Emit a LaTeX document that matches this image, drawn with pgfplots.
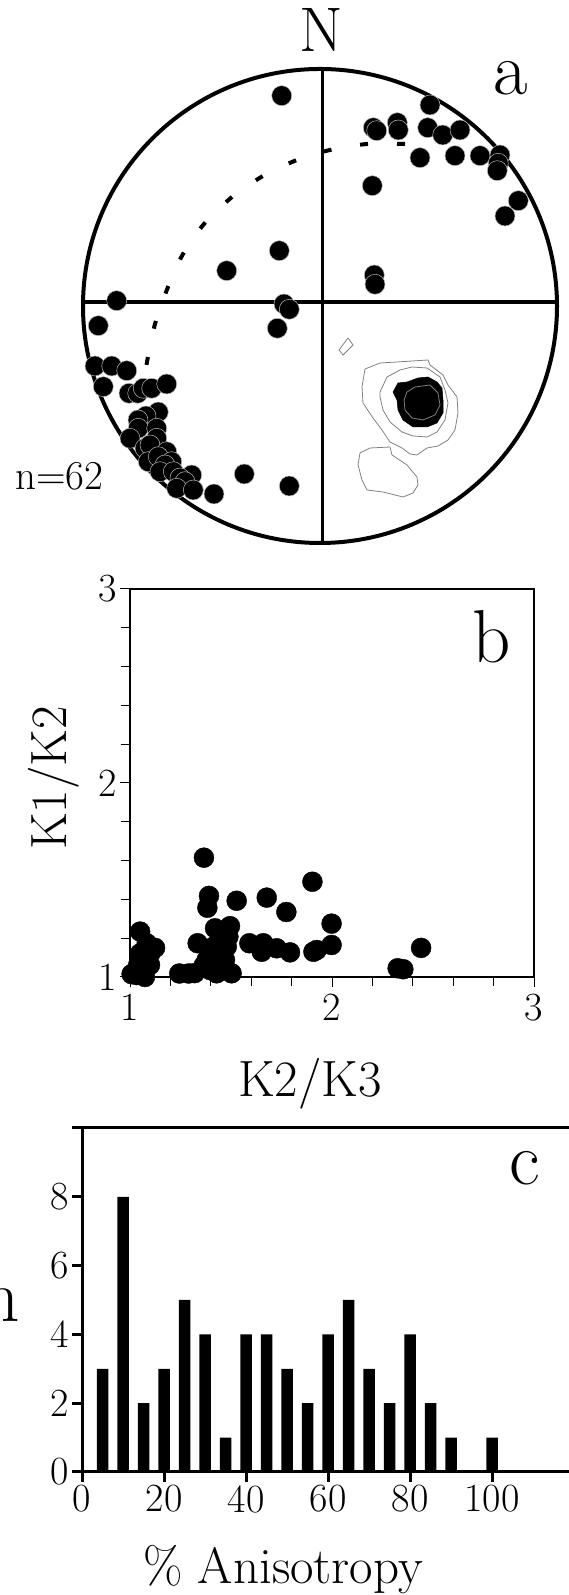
\documentclass[border=0pt]{standalone}
\usepackage{pgfplots}
\pgfplotsset{compat=1.18}

\newcommand\fs[1]{\fontsize{#1}{#1}\selectfont}

\pgfplotstableread{
x y
281.7 95.7
430 105
373.3 127.7
376.7 130.7
397.3 122.7
398.3 130
427.7 127.7
442.7 135
460 130
420 157.7
455 155.7
480 155.7
500 155
498.3 163.3
497.3 170.7
372.3 185.7
518.3 200.7
505 216
279.3 250.7
226.7 270.7
374.3 275
375 284.3
116.7 300.7
284 304
289.3 309.3
277.3 328.3
98.3 325.7
95 366
111.7 366
126.7 370.7
103.3 386.7
129 393.3
137.7 393.3
143.3 388.3
151.7 388.3
166.7 384
158.3 412
146 416
138 420
138.3 428.3
156.7 428.3
130 438.3
156.7 438.3
145 448.3
150 445
166.7 451.7
148.3 461.7
158.3 456.7
171.7 461.7
165 465
160 471.7
173.3 471.7
191.7 475
180 478
185 481.7
176.7 488.3
193.3 490
214 494
244.3 474
289.3 486
}\poles

\pgfplotstableread{
x y
1.366 1.615
1.903 1.491
1.391 1.418
1.383 1.357
1.528 1.393
1.677 1.409
1.774 1.335
1.998 1.275
1.998 1.165
1.924 1.139
1.908 1.130
1.591 1.174
1.652 1.130
1.660 1.174
1.726 1.148
1.792 1.127
2.441 1.150
2.325 1.045
2.353 1.040
1.050 1.234
1.124 1.150
1.083 1.174
1.066 1.090
1.099 1.062
1.008 1.015
1.074 1.000
1.033 1.010
1.050 1.122
1.244 1.018
1.335 1.174
1.320 1.020
1.421 1.251
1.495 1.262
1.446 1.191
1.429 1.122
1.470 1.088
1.429 1.019
1.503 1.019
1.396 1.036
1.413 1.156
1.479 1.156
1.380 1.088
1.290 1.018
1.455 1.050
1.365 1.060
1.487 1.208
1.040 1.060
1.100 1.120
}\ratios

\pgfplotstableread{
x n
5 3
10 8
15 2
20 3
25 5
30 4
35 1
40 4
45 4
50 3
55 2
60 4
65 5
70 3
75 2
80 4
85 2
90 1
95 0
100 1
}\aniso

\begin{document}
\begin{tikzpicture}
\useasboundingbox (0pt,0pt) rectangle (569pt,1595pt);

% --- a: stereonet, data in pixel units, y downwards
\begin{axis}[
  at={(320pt,1289pt)}, anchor=center,
  scale only axis, width=474pt, height=476pt,
  xmin=83, xmax=557, ymin=68, ymax=544, y dir=reverse,
  hide axis, clip=false]
  % contours
  \addplot[gray, line width=0.8pt] coordinates {
    (348,338) (353,345) (343,355) (339,350) (348,338)};
  \addplot[gray, line width=0.8pt] coordinates {
    (365,369) (380,363) (397,362) (428,360) (430,365) (443,375) (448,385)
    (457,397) (458,413) (455,430) (448,440) (438,446) (427,448) (417,455)
    (410,454) (402,448) (390,442) (382,430) (373,418) (363,403) (362,387) (365,369)};
  \addplot[gray, line width=0.8pt] coordinates {
    (380,392) (387,377) (400,370) (412,367) (427,368) (440,377) (445,390)
    (448,403) (445,420) (437,432) (427,437) (413,436) (402,432) (390,422)
    (383,410) (380,397) (380,392)};
  \addplot[fill=black, draw=black, line width=0.5pt] coordinates {
    (393,392) (398,383) (407,382) (418,378) (428,377) (437,382) (442,388)
    (443,400) (443,413) (437,423) (427,427) (413,427) (403,420) (398,410)
    (397,400) (393,392)};
  \addplot[gray, line width=0.8pt] coordinates {
    (407,392) (415,387) (430,385) (438,393) (440,405) (435,415) (423,420)
    (412,418) (405,410) (404,400) (407,392)};
  \addplot[gray, line width=0.8pt] coordinates {
    (360,453) (370,448) (390,447) (392,455) (407,465) (417,477) (418,485)
    (413,493) (403,497) (383,492) (367,490) (362,480) (358,465) (360,453)};
  % great circle
  \addplot[smooth, line width=4pt, dash pattern=on 8pt off 29pt] coordinates {
    (405,144) (367,144) (330,150) (297,160) (263,176) (232,197) (204,224)
    (183,254) (168,287) (155,324) (147,362) (143,390)};
  \draw[line width=3.5pt] (axis cs:322.5,69) -- (axis cs:322.5,543);
  \draw[line width=3.5pt] (axis cs:83,302) -- (axis cs:557,302);
  \draw[line width=4pt] (axis cs:320,306) circle[radius=237pt];
  \addplot[only marks, mark=*, mark size=10pt,
    mark options={fill=black, draw=gray!55, line width=0.5pt}] table {\poles};
\end{axis}
\node[anchor=base] at (321pt,1543pt) {\fs{63}N};
\node[anchor=base] at (511pt,1500pt) {\fs{75}a};
\node[anchor=base west, inner sep=0pt] at (15pt,1105pt) {\fs{41}n=62};

% --- b: K1/K2 against K2/K3
\begin{axis}[
  at={(130pt,618pt)}, anchor=south west,
  scale only axis, width=404pt, height=388pt,
  xmin=1, xmax=3, ymin=1, ymax=3,
  xtick={1,2,3}, ytick={1,2,3},
  minor x tick num=4, minor y tick num=4,
  tick pos=left, tick align=outside,
  major tick length=10pt, minor tick length=9pt,
  every tick/.style={black, line width=1pt},
  axis line style={line width=2.5pt},
  /pgf/number format/assume math mode=true,
  tick label style={font=\fs{40}},
  xticklabel style={yshift=-4pt},
  clip=false]
  \addplot[only marks, mark=*, mark size=10pt,
    mark options={fill=black, draw=black}] table {\ratios};
\end{axis}
\node[anchor=base] at (492pt,932pt) {\fs{75}b};
\node[rotate=90, anchor=base] at (66pt,817pt) {\fs{51}K1/K2};
\node[anchor=base] at (310pt,498pt) {\fs{51}K2/K3};

% --- c: histogram of anisotropy
\begin{axis}[
  at={(82pt,123pt)}, anchor=south west,
  scale only axis, width=492pt, height=344pt,
  xmin=0, xmax=120, ymin=0, ymax=10,
  xtick={0,20,...,100}, ytick={0,2,4,6,8,10},
  yticklabels={0,2,4,6,8,{}},
  tick pos=left, tick align=outside,
  major tick length=10pt,
  every tick/.style={black, line width=3pt},
  axis line style={line width=3pt},
  /pgf/number format/assume math mode=true,
  tick label style={font=\fs{40}},
  clip=false]
  \addplot[ybar, bar width=11.5pt, bar shift=0pt, fill=black, draw=none] table {\aniso};
\end{axis}
\node[anchor=base] at (525pt,410pt) {\fs{75}c};
\node[anchor=base east, inner sep=0pt] at (20pt,273pt) {\fs{75}n};
\node[anchor=base] at (283pt,12pt) {\fs{51}\% Anisotropy};
\end{tikzpicture}
\end{document}
